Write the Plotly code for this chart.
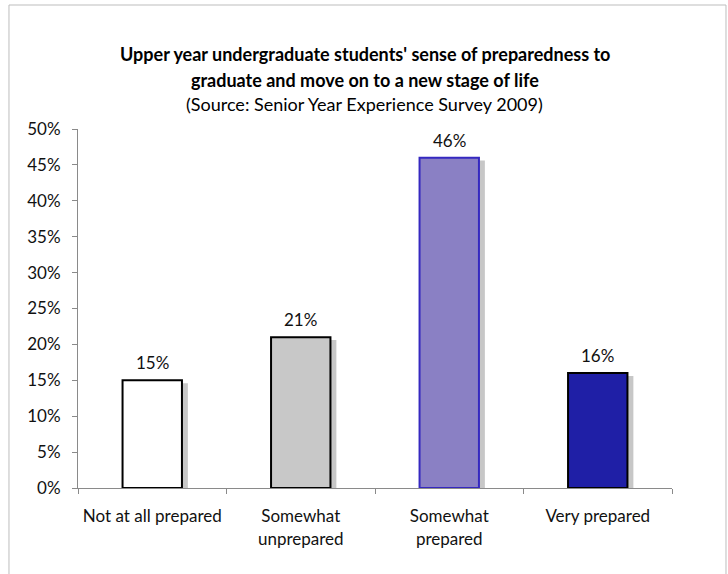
import plotly.graph_objects as go

# Survey results
categories = ["Not at all prepared", "Somewhat unprepared", "Somewhat prepared", "Very prepared"]
tick_labels = ["Not at all prepared", "Somewhat<br>unprepared", "Somewhat<br>prepared", "Very prepared"]
percent = [15, 21, 46, 16]
y_ticks = [0, 5, 10, 15, 20, 25, 30, 35, 40, 45, 50]

fill_colors = ["#ffffff", "#c8c8c8", "#8a80c4", "#1f1fa6"]
edge_colors = ["#000000", "#000000", "#3528c0", "#000000"]

FONT = "Lato"

fig = go.Figure()

# soft drop shadow behind each bar
fig.add_trace(go.Bar(
    x=categories,
    y=[v - 0.4 for v in percent],
    width=0.4,
    offset=-0.2 + 0.04,
    marker=dict(color="rgba(0,0,0,0.22)", line=dict(width=0)),
    hoverinfo="skip",
    showlegend=False,
))

fig.add_trace(go.Bar(
    x=categories,
    y=percent,
    width=0.4,
    offset=-0.2,
    marker=dict(color=fill_colors, line=dict(color=edge_colors, width=2)),
    showlegend=False,
))

# value labels above the bars
for cat, v in zip(categories, percent):
    fig.add_annotation(x=cat, y=v, text=f"{v}%", showarrow=False,
                       yanchor="bottom", yshift=5,
                       font=dict(family=FONT, size=17, color="#111111"))

fig.update_layout(
    width=728,
    height=574,
    margin=dict(l=78, r=56, t=129, b=86),
    paper_bgcolor="white",
    plot_bgcolor="white",
    barmode="overlay",
    font=dict(family=FONT, size=17, color="#111111"),
)

fig.update_xaxes(
    categoryorder="array",
    categoryarray=categories,
    tickvals=categories,
    ticktext=tick_labels,
    tickson="boundaries",
    ticks="outside",
    ticklen=5,
    tickcolor="#8a8a8a",
    showline=True,
    linecolor="#8a8a8a",
    linewidth=1,
    showgrid=False,
    tickfont=dict(family=FONT, size=17, color="#111111"),
    ticklabelstandoff=13,
    range=[-0.5, 3.5],
)

fig.update_yaxes(
    range=[0, 50],
    tickvals=y_ticks,
    ticktext=[f"{t}%" for t in y_ticks],
    ticks="outside",
    ticklen=5,
    tickcolor="#8a8a8a",
    showline=True,
    linecolor="#8a8a8a",
    linewidth=1,
    showgrid=False,
    zeroline=False,
    tickfont=dict(family=FONT, size=17, color="#111111"),
    ticklabelstandoff=8,
)

# chart title and source line
title_lines = [
    ("<b>Upper year undergraduate students' sense of preparedness to</b>", 1.209),
    ("<b>graduate and move on to a new stage of life</b>", 1.1365),
    ("(Source: Senior Year Experience Survey 2009)", 1.0696),
]
for text, ypos in title_lines:
    fig.add_annotation(text=text, xref="paper", yref="paper", x=0.483, y=ypos,
                       xanchor="center", yanchor="middle", showarrow=False,
                       font=dict(family=FONT, size=18, color="#000000"))

# outer chart frame
fig.add_shape(type="rect", xref="paper", yref="paper",
              x0=-0.1162, x1=1.0909, y0=-0.3, y1=1.3454,
              line=dict(color="#bdbdbd", width=1), fillcolor="rgba(0,0,0,0)", layer="below")

fig.write_html("out.html")
